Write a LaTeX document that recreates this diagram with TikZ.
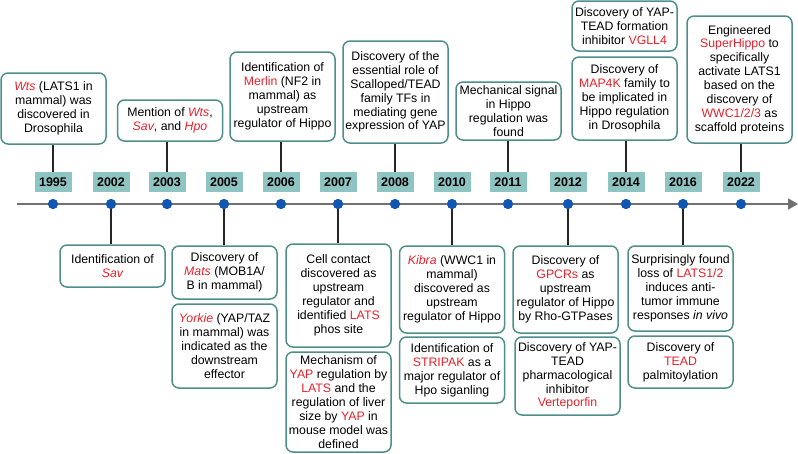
\documentclass[tikz,border=0pt]{standalone}
\usepackage{fontspec}
\setmainfont{Liberation Sans}
\usetikzlibrary{arrows.meta, positioning}

\definecolor{boxteal}{HTML}{4F8F8A}
\definecolor{yearteal}{HTML}{8EC5C3}
\definecolor{dotblue}{HTML}{1256B4}
\definecolor{hlred}{HTML}{E8222B}
\definecolor{axisgray}{HTML}{707070}

\newcommand{\hl}[1]{\textcolor{hlred}{#1}}
\newcommand{\hli}[1]{\textcolor{hlred}{\itshape #1}}

\tikzset{
  event/.style={draw=boxteal, line width=1.5pt, rounded corners=7pt, fill=white,
    align=center, font=\fontsize{12.3}{13.9}\selectfont, minimum width=105pt,
    inner xsep=1pt, inner ysep=1pt},
  yearbox/.style={fill=yearteal, font=\fontsize{12.5}{14}\selectfont\bfseries,
    minimum width=37pt, minimum height=20pt, inner sep=0pt},
  dot/.style={circle, fill=dotblue, minimum size=10pt, inner sep=0pt},
  stem/.style={line width=1.2pt, draw=black!85},
  axis/.style={line width=1.8pt, draw=axisgray, -{Triangle[length=10pt,width=11pt]}}
}

\begin{document}
\begin{tikzpicture}[x=1pt, y=-1pt]
		\useasboundingbox (0,0) rectangle (798,453);
		
		% Years and dots
		\foreach \yr/\x in {1995/53, 2002/111, 2003/167, 2005/224, 2006/281, 2007/338,
		  2008/395, 2010/452, 2011/508, 2012/568, 2014/626, 2016/683, 2022/741} {
			\node[yearbox] (y\yr) at (\x,182) {\yr};
			\node[dot] (d\yr) at (\x,204) {};
		}
		
		% Events above the line
		\node[event, minimum height=71pt] (e1995) at (53.5,108.5) {\hli{Wts} (LATS1 in\\mammal) was\\discovered in\\Drosophila};
		\node[event, minimum height=41pt] (e2003) at (170,120.5) {Mention of \hli{Wts},\\\hli{Sav}, and \hli{Hpo}};
		\node[event, minimum height=89pt] (e2006) at (282.5,96.5) {Identification of\\\hl{Merlin} (NF2 in\\mammal) as\\upstream\\regulator of Hippo};
		\node[event, minimum height=102pt] (e2008) at (395.5,92) {Discovery of the\\essential role of\\Scalloped/TEAD\\family TFs in\\mediating gene\\expression of YAP};
		\node[event, minimum height=58pt] (e2011) at (508.5,111) {Mechanical signal\\in Hippo\\regulation was\\found};
		\node[event, minimum height=83pt] (e2014) at (624.5,98.5) {Discovery of\\\hl{MAP4K} family to\\be implicated in\\Hippo regulation\\in Drosophila};
		\node[event, minimum height=50pt] (e2014b) at (624.5,26) {Discovery of YAP-\\TEAD formation\\inhibitor \hl{VGLL4}};
		\node[event, minimum height=127pt] (e2022) at (739.5,79.5) {Engineered\\\hl{SuperHippo} to\\specifically\\activate LATS1\\based on the\\discovery of\\\hl{WWC1/2/3} as\\scaffold proteins};
		
		% Events below the line
		\node[event, minimum height=42pt] (e2002) at (112.5,266) {Identification of\\\hli{Sav}};
		\node[event, minimum height=53pt] (e2005) at (224.5,272.5) {Discovery of\\\hli{Mats} (MOB1A/\\B in mammal)};
		\node[event, minimum height=84pt] (e2005b) at (224.5,346) {\hli{Yorkie} (YAP/TAZ\\in mammal) was\\indicated as the\\downstream\\effector};
		\node[event, minimum height=103pt] (e2007) at (338.5,295.5) {Cell contact\\discovered as\\upstream\\regulator and\\identified \hl{LATS}\\phos site};
		\node[event, minimum height=100pt] (e2007b) at (338.5,402) {Mechanism of\\\hl{YAP} regulation by\\\hl{LATS} and the\\regulation of liver\\size by \hl{YAP} in\\mouse model was\\defined};
		\node[event, minimum height=87pt] (e2010) at (452,289.5) {\hli{Kibra} (WWC1 in\\mammal)\\discovered as\\upstream\\regulator of Hippo};
		\node[event, minimum height=66pt] (e2010b) at (452,370) {Identification of\\\hl{STRIPAK} as a\\major regulator of\\Hpo siganling};
		\node[event, minimum height=87pt] (e2012) at (565.5,289.5) {Discovery of\\\hl{GPCRs} as\\upstream\\regulator of Hippo\\by Rho-GTPases};
		\node[event, minimum height=78pt] (e2012b) at (567.5,376) {Discovery of YAP-\\TEAD\\pharmacological\\inhibitor\\\hl{Verteporfin}};
		\node[event, minimum height=85pt] (e2016) at (680.5,288.5) {Surprisingly found\\loss of \hl{LATS1/2}\\induces anti-\\tumor immune\\responses \textit{in vivo}};
		\node[event, minimum height=52pt] (e2016b) at (680.5,362) {Discovery of\\\hl{TEAD}\\palmitoylation};
		
		% Stems
		\foreach \yr in {1995, 2003, 2006, 2008, 2011, 2014, 2022}
			\draw[stem] (y\yr.north) -- (y\yr.north |- e\yr.south);
		\foreach \yr in {2002, 2005, 2007, 2010, 2012, 2016}
			\draw[stem] (d\yr.center) -- (d\yr.center |- e\yr.north);
		
		% Time axis
		\coordinate (tlstart) at (17,204);
		\coordinate (tlend) at (798,204);
		\draw[axis] (tlstart) -- (tlend);
		\foreach \yr/\x in {1995/53, 2002/111, 2003/167, 2005/224, 2006/281, 2007/338,
		  2008/395, 2010/452, 2011/508, 2012/568, 2014/626, 2016/683, 2022/741}
			\node[dot] at (d\yr) {};
\end{tikzpicture}
\end{document}
